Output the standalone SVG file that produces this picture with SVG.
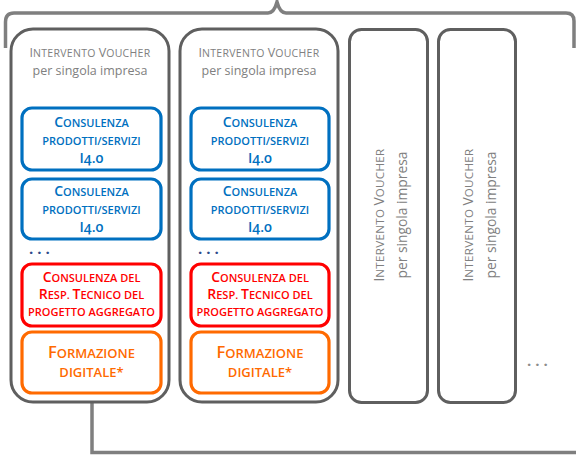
<svg xmlns="http://www.w3.org/2000/svg" width="576" height="458" viewBox="0 0 576 458">
<style>
.big{fill:#fff;stroke:#5f5f5f;stroke-width:3}
.conn{fill:none;stroke:#7f7f7f;stroke-width:3.5}
.blue{fill:#fff;stroke:#0070c0;stroke-width:3.2}
.red{fill:#fff;stroke:#ff0000;stroke-width:3.2}
.orange{fill:#fff;stroke:#ff6a00;stroke-width:3.2}
text{font-family:"Open Sans","Noto Sans","Liberation Sans",sans-serif;text-anchor:middle}
.ttl{font-size:12.5px;fill:#808080}
.ts{font-size:10.5px;letter-spacing:0.3px}
.vt{font-size:13.8px}
.vts{font-size:11.6px;letter-spacing:0.3px}
.lb{font-size:11px;font-weight:600;font-variant-numeric:oldstyle-nums}
.c{font-size:14px}
.lo{font-size:13px}
.co{font-size:16.5px}
.tb{fill:#0070c0}
.tr{fill:#ff0000}
.to{fill:#ff6a00}
.dots{font-size:15px;font-weight:bold;letter-spacing:4px;text-anchor:start}
</style>
<g id="connectors">
<path class="conn" d="M5.5 48 L5.5 22 Q5.5 13 14 13 L268 13 Q274 13 277 2 Q280 13 286 13 L566 13 Q574 13 574 21 L574 48"/>
<path class="conn" d="M92 402 L92 452.5 L576 452.5"/>
</g>
<g id="voucher1">
<rect class="big" x="11" y="29" width="158" height="373" rx="22"/>
<text class="ttl" x="90" y="57"><tspan>I</tspan><tspan class="ts">NTERVENTO </tspan><tspan>V</tspan><tspan class="ts">OUCHER</tspan></text>
<text class="ttl" x="90" y="75">per singola impresa</text>
</g>
<g id="v1-consulenza1">
<rect class="blue" x="22" y="108" width="139" height="62" rx="10"/>
<text class="lb tb" x="91.5" y="127"><tspan class="c">C</tspan>ONSULENZA</text>
<text class="lb tb" x="91.5" y="145">PRODOTTI/SERVIZI</text>
<text class="lb tb" x="91.5" y="163"><tspan class="c">I4.0</tspan></text>
</g>
<g id="v1-consulenza2">
<rect class="blue" x="22" y="179" width="139" height="60" rx="10"/>
<text class="lb tb" x="91.5" y="196"><tspan class="c">C</tspan>ONSULENZA</text>
<text class="lb tb" x="91.5" y="214">PRODOTTI/SERVIZI</text>
<text class="lb tb" x="91.5" y="232"><tspan class="c">I4.0</tspan></text>
</g>
<text id="v1-dots" class="dots" x="29" y="254" fill="#2e4a8b">...</text>
<g id="v1-resp">
<rect class="red" x="22" y="264" width="139" height="62" rx="10"/>
<text class="lb tr" x="91.5" y="282"><tspan class="c">C</tspan>ONSULENZA DEL</text>
<text class="lb tr" x="91.5" y="299"><tspan class="c">R</tspan>ESP. <tspan class="c">T</tspan>ECNICO DEL</text>
<text class="lb tr" x="91.5" y="316">PROGETTO AGGREGATO</text>
</g>
<g id="v1-formazione">
<rect class="orange" x="22" y="332" width="139" height="61" rx="10"/>
<text class="lb lo to" x="91.5" y="358"><tspan class="co">F</tspan>ORMAZIONE</text>
<text class="lb lo to" x="91.5" y="377">DIGITALE*</text>
</g>
<g id="voucher2">
<rect class="big" x="180" y="29" width="158" height="373" rx="22"/>
<text class="ttl" x="259" y="57"><tspan>I</tspan><tspan class="ts">NTERVENTO </tspan><tspan>V</tspan><tspan class="ts">OUCHER</tspan></text>
<text class="ttl" x="259" y="75">per singola impresa</text>
</g>
<g id="v2-consulenza1">
<rect class="blue" x="191" y="108" width="138" height="62" rx="10"/>
<text class="lb tb" x="260" y="127"><tspan class="c">C</tspan>ONSULENZA</text>
<text class="lb tb" x="260" y="145">PRODOTTI/SERVIZI</text>
<text class="lb tb" x="260" y="163"><tspan class="c">I4.0</tspan></text>
</g>
<g id="v2-consulenza2">
<rect class="blue" x="191" y="179" width="138" height="60" rx="10"/>
<text class="lb tb" x="260" y="196"><tspan class="c">C</tspan>ONSULENZA</text>
<text class="lb tb" x="260" y="214">PRODOTTI/SERVIZI</text>
<text class="lb tb" x="260" y="232"><tspan class="c">I4.0</tspan></text>
</g>
<text id="v2-dots" class="dots" x="198" y="254" fill="#2e4a8b">...</text>
<g id="v2-resp">
<rect class="red" x="191" y="264" width="138" height="62" rx="10"/>
<text class="lb tr" x="260" y="282"><tspan class="c">C</tspan>ONSULENZA DEL</text>
<text class="lb tr" x="260" y="299"><tspan class="c">R</tspan>ESP. <tspan class="c">T</tspan>ECNICO DEL</text>
<text class="lb tr" x="260" y="316">PROGETTO AGGREGATO</text>
</g>
<g id="v2-formazione">
<rect class="orange" x="191" y="332" width="138" height="61" rx="10"/>
<text class="lb lo to" x="260" y="358"><tspan class="co">F</tspan>ORMAZIONE</text>
<text class="lb lo to" x="260" y="377">DIGITALE*</text>
</g>
<g id="voucher3">
<rect class="big" x="349.5" y="29.5" width="78" height="373" rx="12"/>
<g transform="translate(388.5 215) rotate(-90)">
<text class="ttl vt" x="0" y="-5"><tspan>I</tspan><tspan class="vts">NTERVENTO </tspan><tspan>V</tspan><tspan class="vts">OUCHER</tspan></text>
<text class="ttl vt" x="0" y="18">per singola impresa</text>
</g>
</g>
<g id="voucher4">
<rect class="big" x="438.5" y="29.5" width="77" height="373" rx="12"/>
<g transform="translate(477 215) rotate(-90)">
<text class="ttl vt" x="0" y="-4"><tspan>I</tspan><tspan class="vts">NTERVENTO </tspan><tspan>V</tspan><tspan class="vts">OUCHER</tspan></text>
<text class="ttl vt" x="0" y="19">per singola impresa</text>
</g>
</g>
<text id="more-dots" class="dots" x="527" y="366" fill="#8c8c8c">...</text>
</svg>
